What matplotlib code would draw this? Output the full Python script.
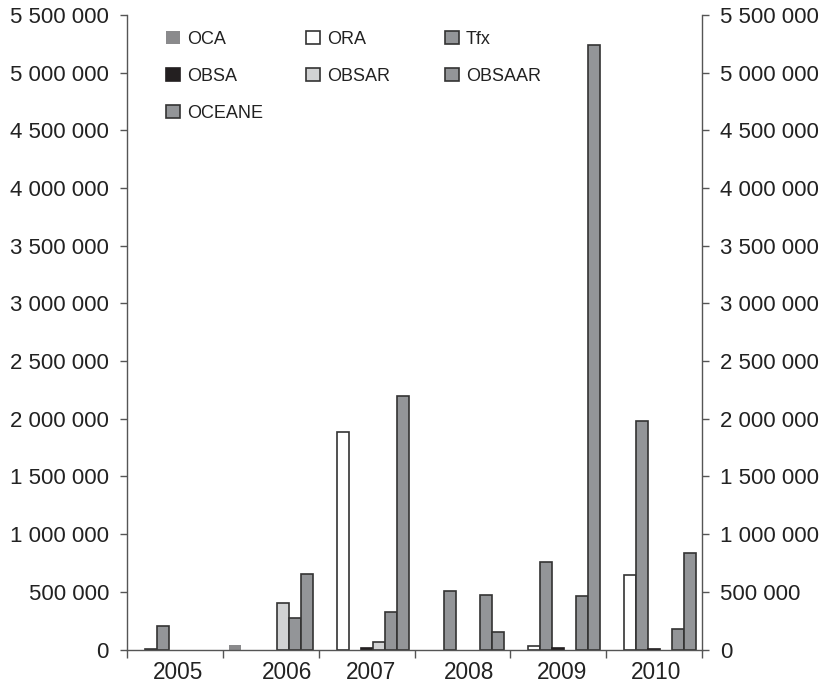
import matplotlib
matplotlib.use("Agg")
import matplotlib.pyplot as plt
import matplotlib.ticker as mticker
import numpy as np

plt.rcParams['font.family'] = ['Liberation Sans', 'DejaVu Sans']

# data
years = ["2005", "2006", "2007", "2008", "2009", "2010"]
series = ["OCA", "ORA", "Tfx", "OBSA", "OBSAR", "OBSAAR", "OCEANE"]
oca = [0, 40000, 0, 0, 0, 0]
ora = [8000, 0, 1885000, 0, 30000, 650000]
tfx = [205000, 0, 0, 505000, 760000, 1980000]
obsa = [0, 0, 15000, 0, 12000, 5000]
obsar = [0, 405000, 65000, 0, 0, 0]
obsaar = [0, 275000, 325000, 470000, 468000, 180000]
oceane = [0, 655000, 2195000, 150000, 5240000, 835000]
values = [oca, ora, tfx, obsa, obsar, obsaar, oceane]

# looks
face = ["#8a8a8c", "#ffffff", "#939598", "#231f20", "#d1d2d3", "#939598", "#939598"]
edge = ["none", "#333333", "#333333", "#231f20", "#333333", "#333333", "#333333"]
label_shift = [0.03, 0.17, 0.05, 0.07, 0.04, 0.02]  # year labels sit a bit off-centre

fig = plt.figure(figsize=(8.31, 6.92), dpi=100)
ax = fig.add_axes([127 / 831, 1 - 649.5 / 692, (702 - 127) / 831, (649.5 - 15) / 692])

x = np.arange(len(years))
w = 0.125
bars = []
for j, vals in enumerate(values):
    v = np.array(vals, dtype=float)
    v[v == 0] = np.nan  # empty cells draw nothing
    b = ax.bar(x + (j - 3) * w, v, width=w, color=face[j], edgecolor=edge[j],
               linewidth=1.2, label=series[j])
    bars.append(b)

ax.set_xlim(-0.5, len(years) - 0.5)
ax.set_ylim(0, 5500000)

ax.yaxis.set_major_locator(mticker.MultipleLocator(500000))
ax.yaxis.set_major_formatter(mticker.FuncFormatter(lambda v, p: f"{v:,.0f}".replace(",", " ")))
ax.tick_params(axis="y", which="major", direction="out", length=5, width=1, color="#555555",
               labelsize=16, labelcolor="#222222", left=True, right=True,
               labelleft=True, labelright=True, pad=8)

ax.set_xticks(np.arange(len(years) + 1) - 0.5)
ax.set_xticklabels([])
ax.set_xticks(x + np.array(label_shift), minor=True)
ax.set_xticklabels(years, minor=True)
ax.tick_params(axis="x", which="major", direction="out", length=6, width=1, color="#555555")
ax.tick_params(axis="x", which="minor", length=0, labelsize=16.3, labelcolor="#222222", pad=8)

ax.spines["top"].set_visible(False)
for s in ["left", "right", "bottom"]:
    ax.spines[s].set_color("#555555")
    ax.spines[s].set_linewidth(1.0)

# legend: three columns placed by hand
cols = [[0, 3, 6], [1, 4], [2, 5]]
col_x = [166 / 831, 306 / 831, 445 / 831]
for cx, idx in zip(col_x, cols):
    leg = fig.legend([bars[i] for i in idx], [series[i] for i in idx],
                     loc="upper left", bbox_to_anchor=(cx, 1 - 31 / 692),
                     frameon=False, fontsize=13, handlelength=0.75, handleheight=0.75,
                     handletextpad=0.4, labelspacing=1.1, borderpad=0, borderaxespad=0)
    for t in leg.get_texts():
        t.set_color("#222222")

fig.savefig("out.png", dpi=100)
